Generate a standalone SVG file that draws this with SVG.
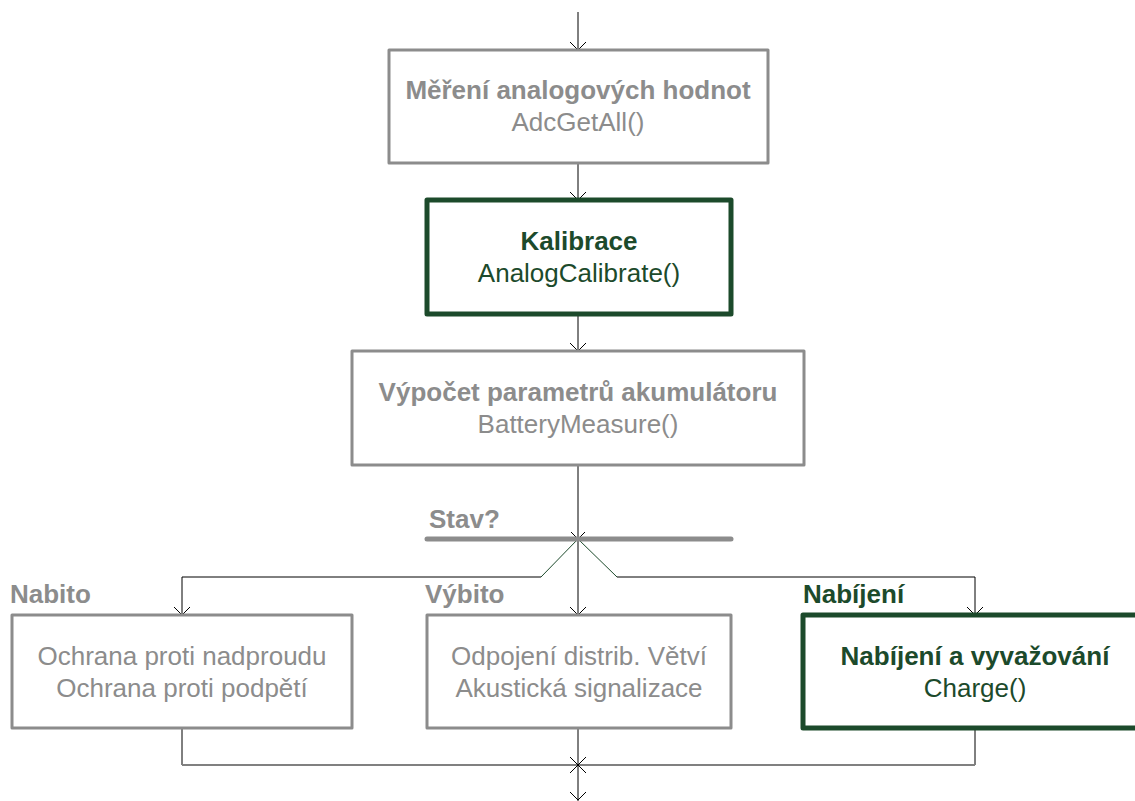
<svg xmlns="http://www.w3.org/2000/svg" width="1135" height="801" viewBox="0 0 1135 801">
<style>
.gbox{fill:#fff;stroke:#8c8c8c;stroke-width:3;stroke-linejoin:round}
.hbox{fill:#fff;stroke:#1c4a2b;stroke-width:5;stroke-linejoin:round}
.t{font-family:"Liberation Sans",Arial,sans-serif;font-size:26px;text-anchor:middle}
.b{font-weight:bold}
.gray{fill:#8c8c8c}
.green{fill:#1c4a2b}
.lbl{font-family:"Liberation Sans",Arial,sans-serif;font-size:26px;font-weight:bold}
.c{fill:none;stroke:#000;stroke-width:1}
.cg{fill:none;stroke:#1c4a2b;stroke-width:1}
.ah{fill:none;stroke:#000;stroke-width:1}
</style>
<rect width="1135" height="801" fill="#fff"/>
<g id="connectors">
  <line class="c" x1="578" y1="12" x2="578" y2="50"/>
  <path class="ah" d="M570,42 L578,50 L586,42"/>
  <line class="c" x1="578" y1="163" x2="578" y2="200"/>
  <path class="ah" d="M570,192 L578,200 L586,192"/>
  <line class="c" x1="578" y1="314" x2="578" y2="351"/>
  <path class="ah" d="M570,343 L578,351 L586,343"/>
  <line class="c" x1="578" y1="465" x2="578" y2="615"/>
  <path class="ah" d="M571,532 L578,539 L585,532"/>
  <path class="cg" d="M578,539 L541,577"/>
  <path class="cg" d="M578,539 L617,577"/>
  <path class="c" d="M541,577 L182,577 L182,615"/>
  <path class="c" d="M617,577 L975,577 L975,615"/>
  <path class="ah" d="M174,607 L182,615 L190,607"/>
  <path class="ah" d="M570,607 L578,615 L586,607"/>
  <path class="ah" d="M967,607 L975,615 L983,607"/>
  <path class="c" d="M182,728 L182,765"/>
  <path class="c" d="M975,728 L975,765"/>
  <line x1="182" y1="765" x2="975" y2="765" stroke="#808080" stroke-width="2"/>
  <line class="c" x1="578" y1="728" x2="578" y2="801"/>
  <path class="ah" d="M570,757 L586,773 M586,757 L570,773"/>
  <path class="ah" d="M570,792 L578,800 L586,792"/>
</g>
<g id="node-adc">
  <rect class="gbox" x="389" y="50" width="379" height="113"/>
  <text class="t b gray" x="578" y="99">Měření analogových hodnot</text>
  <text class="t gray" x="578" y="131">AdcGetAll()</text>
</g>
<g id="node-kalibrace">
  <rect class="hbox" x="427" y="200" width="304" height="114"/>
  <text class="t b green" x="579" y="250">Kalibrace</text>
  <text class="t green" x="579" y="282">AnalogCalibrate()</text>
</g>
<g id="node-vypocet">
  <rect class="gbox" x="352" y="351" width="452" height="114"/>
  <text class="t b gray" x="578" y="401">Výpočet parametrů akumulátoru</text>
  <text class="t gray" x="578" y="433">BatteryMeasure()</text>
</g>
<g id="decision-stav">
  <line x1="427" y1="539" x2="731" y2="539" stroke="#8c8c8c" stroke-width="5" stroke-linecap="round"/>
  <text class="lbl gray" x="429" y="528">Stav?</text>
</g>
<g id="node-nabito">
  <text class="lbl gray" x="10" y="603">Nabito</text>
  <rect class="gbox" x="12" y="615" width="340" height="113"/>
  <text class="t gray" x="182" y="665">Ochrana proti nadproudu</text>
  <text class="t gray" x="182" y="697">Ochrana proti podpětí</text>
</g>
<g id="node-vybito">
  <text class="lbl gray" x="425" y="603">Výbito</text>
  <rect class="gbox" x="427" y="615" width="304" height="113"/>
  <text class="t gray" x="579" y="665">Odpojení distrib. Větví</text>
  <text class="t gray" x="579" y="697">Akustická signalizace</text>
</g>
<g id="node-nabijeni">
  <text class="lbl green" x="803" y="603">Nabíjení</text>
  <rect class="hbox" x="803" y="615" width="344" height="113"/>
  <text class="t b green" x="975" y="665">Nabíjení a vyvažování</text>
  <text class="t green" x="975" y="697">Charge()</text>
</g>
</svg>
